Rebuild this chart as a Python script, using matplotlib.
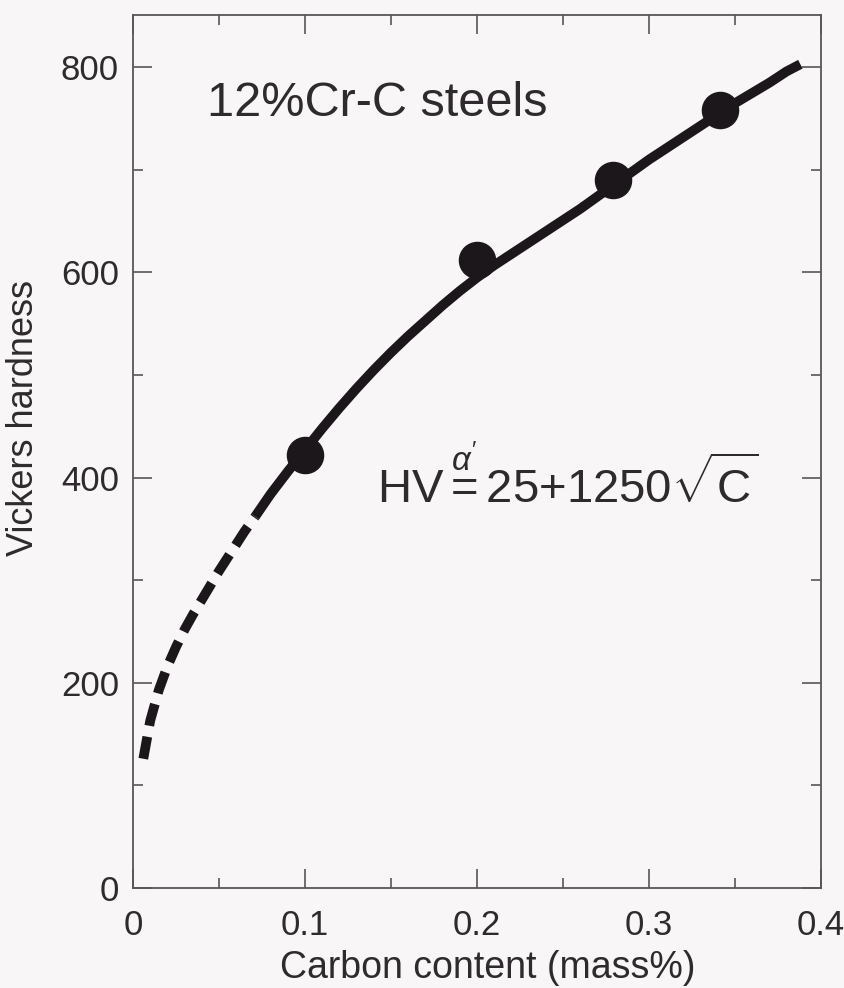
import matplotlib
matplotlib.use("Agg")
import matplotlib.pyplot as plt
from matplotlib.ticker import MultipleLocator

# Measured points
carbon = [0.1, 0.2, 0.279, 0.341]
hardness = [422, 612, 690, 758]

# Fitted curve: dashed below ~0.07 mass%C, solid above
dash_c = [0.006, 0.01, 0.015, 0.02, 0.025, 0.03, 0.035, 0.04, 0.045,
          0.05, 0.055, 0.06, 0.065, 0.071]
dash_hv = [126, 163, 193, 216, 235, 252, 267, 281, 295,
           309, 322, 335, 348, 362]
solid_c = [0.071, 0.08, 0.09, 0.1, 0.11, 0.12, 0.13, 0.14, 0.15, 0.16,
           0.17, 0.18, 0.19, 0.2, 0.21, 0.22, 0.23, 0.24, 0.25, 0.26,
           0.27, 0.28, 0.29, 0.3, 0.31, 0.32, 0.33, 0.34, 0.35, 0.36,
           0.37, 0.38, 0.388]
solid_hv = [362, 384, 406, 427, 448, 468, 487, 505, 522, 538,
            553, 568, 582, 595, 607, 618, 629, 640, 651, 662,
            674, 686, 698, 710, 721, 732, 743, 754, 765, 775,
            785, 796, 803]

x_ticks = [0, 0.1, 0.2, 0.3, 0.4]
x_tick_labels = ["0", "0.1", "0.2", "0.3", "0.4"]
y_ticks = [0, 200, 400, 600, 800]

plt.rcParams['font.family'] = ['Liberation Sans', 'DejaVu Sans']
plt.rcParams['mathtext.fontset'] = 'custom'
plt.rcParams['mathtext.rm'] = 'Liberation Sans'
plt.rcParams['mathtext.it'] = 'Liberation Sans:italic'

text_col = '#2e2a2d'
line_col = '#1c171b'
spine_col = '#5a5658'

fig = plt.figure(figsize=(8.44, 9.88), dpi=100, facecolor='#f9f6f7')
ax = fig.add_axes([133 / 844, 100 / 988, 688 / 844, 873 / 988])
ax.set_facecolor('#f9f6f7')

ax.plot(solid_c, solid_hv, color=line_col, lw=7, solid_capstyle='butt',
        solid_joinstyle='round', zorder=2)
ax.plot(dash_c, dash_hv, color=line_col, lw=7, dashes=(2.3, 1.15),
        dash_capstyle='butt', zorder=2)
ax.plot(carbon, hardness, 'o', color=line_col, ms=26, zorder=3)

ax.set_xlim(0, 0.4)
ax.set_ylim(0, 851)
ax.set_xticks(x_ticks)
ax.set_xticklabels(x_tick_labels)
ax.set_yticks(y_ticks)
ax.xaxis.set_minor_locator(MultipleLocator(0.05))
ax.yaxis.set_minor_locator(MultipleLocator(100))
ax.tick_params(which='both', direction='in', top=True, right=True,
               color=spine_col, width=1.2, labelcolor=text_col, labelsize=25)
ax.tick_params(which='major', length=14)
ax.tick_params(which='minor', length=7)
ax.tick_params(axis='x', pad=15)
ax.tick_params(axis='y', pad=10)
for sp in ax.spines.values():
    sp.set_color(spine_col)
    sp.set_linewidth(1.3)

ax.set_xlabel("Carbon content (mass%)", fontsize=27, color=text_col)
ax.set_ylabel("Vickers hardness", fontsize=26, color=text_col)
ax.xaxis.set_label_coords(0.516, -0.071)
ax.yaxis.set_label_coords(-0.134, 0.538)

ax.text(0.043, 753, "12%Cr-C steels", fontsize=35, color=text_col)
ax.text(0.142, 376, r"HV$\overset{\alpha^{\prime}}{=}$25+1250$\sqrt{\mathrm{C}}$",
        fontsize=34, color=text_col)

fig.savefig("out.png", dpi=100, facecolor=fig.get_facecolor())
